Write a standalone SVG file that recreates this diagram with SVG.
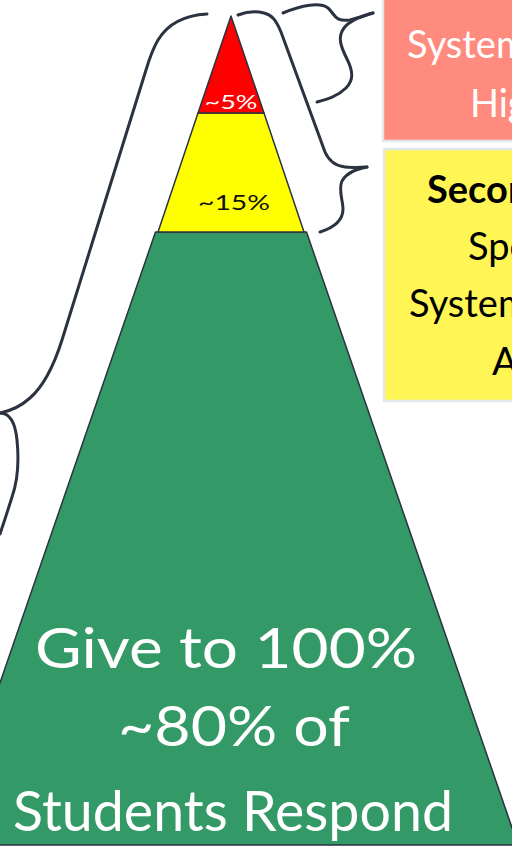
<svg xmlns="http://www.w3.org/2000/svg" width="512" height="855" viewBox="0 0 512 855">
<style>
.tier{stroke:#2b3340;stroke-width:1.5;stroke-linejoin:round}
.brace{fill:none;stroke:#2b3340;stroke-width:3;stroke-linecap:round;stroke-linejoin:round}
.box{stroke:#e3e8ec;stroke-width:2.5}
.f{font-family:"Lato","Noto Sans","Liberation Sans",sans-serif}
</style>
<rect width="512" height="855" fill="#ffffff"/>
<g id="tier-green">
<polygon class="tier" points="155.5,232 306.5,232 518,845 -56,845" fill="#339966"/>
<text class="f" x="226" y="668" font-size="56" fill="#ffffff" text-anchor="middle" textLength="382" lengthAdjust="spacingAndGlyphs">Give to 100%</text>
<text class="f" x="234" y="746" font-size="56" fill="#ffffff" text-anchor="middle" textLength="232" lengthAdjust="spacingAndGlyphs">~80% of</text>
<text class="f" x="233" y="831" font-size="56" fill="#ffffff" text-anchor="middle" textLength="440" lengthAdjust="spacingAndGlyphs">Students Respond</text>
</g>
<g id="tier-yellow">
<polygon class="tier" points="198,113 264,113 304,232 158,232" fill="#ffff00"/>
<text class="f" x="234" y="210" font-size="22" fill="#111111" text-anchor="middle" textLength="72" lengthAdjust="spacingAndGlyphs">~15%</text>
</g>
<g id="tier-red">
<polygon class="tier" points="231,16 264,113 198,113" fill="#ff0000"/>
<text class="f" x="231" y="109" font-size="19" fill="#ffffff" text-anchor="middle" textLength="53" lengthAdjust="spacingAndGlyphs">~5%</text>
</g>
<g id="box-tertiary">
<rect class="box" x="383" y="-5" width="140" height="146" fill="#ff8a7e"/>
<text class="f" x="407" y="58" font-size="38" fill="#ffffff">Systems</text>
<text class="f" x="470" y="117" font-size="38" fill="#ffffff">High</text>
</g>
<g id="box-secondary">
<rect class="box" x="384" y="149" width="140" height="252" fill="#fff655"/>
<text class="f" x="427" y="203" font-size="38" font-weight="bold" fill="#000000">Secondary</text>
<text class="f" x="468" y="260" font-size="38" fill="#000000">Specialized</text>
<text class="f" x="409" y="317" font-size="38" fill="#000000">Systems</text>
<text class="f" x="492" y="375" font-size="38" fill="#000000">At-Risk</text>
</g>
<g id="connectors">
<path class="brace" d="M283,13 C302,5 320,2 328,8 C335,14 334,22 350,20 C358,18 366,15 373,13"/>
<path class="brace" d="M373,13 C362,16 350,20 344,28 C337,37 341,47 347,59 C353,71 354,80 346,88 C338,96 328,99 317,102"/>
<path class="brace" d="M238,15 C246,12 256,11 264,13 C272,15 276,20 281,32 L325,152 C329,161 335,166 345,167 C353,168 361,167 367,167"/>
<path class="brace" d="M367,167 C357,169 347,172 342,181 C338,190 343,200 343,209 C343,219 336,227 320,232"/>
<path class="brace" d="M207,14 C190,15 170,20 158,40 C152,50 149,60 146,70 L62,340 C55,362 45,385 30,398 C20,407 10,411 0,413"/>
<path class="brace" d="M0,413 C9,413 15,420 17,440 C19,460 18,480 12,497 C8,510 4,522 0,534"/>
</g>
</svg>
